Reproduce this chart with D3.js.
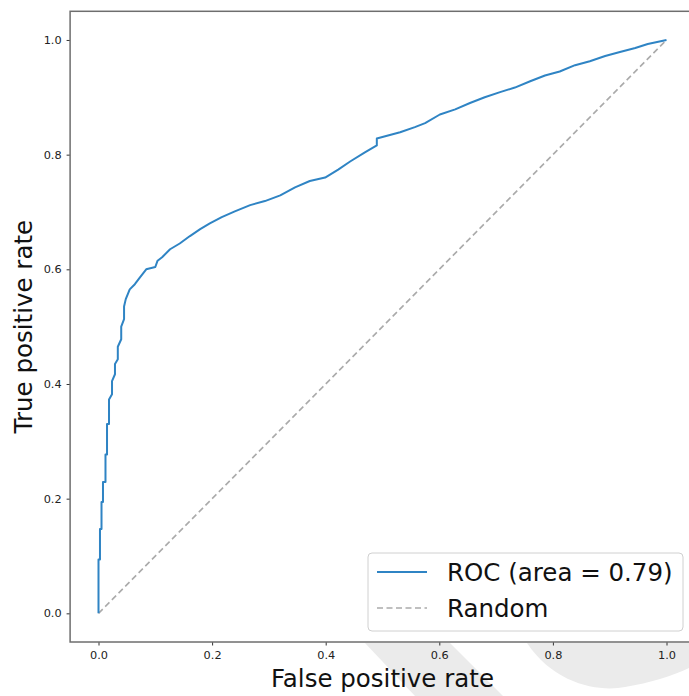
<!DOCTYPE html>
<html>
<head>
<meta charset="utf-8">
<script src="https://cdn.jsdelivr.net/npm/d3@7"></script>
<style>
  html, body { margin: 0; padding: 0; background: #fff; }
  svg { display: block; font-family: "DejaVu Sans", sans-serif; }
</style>
</head>
<body>
<svg id="chart" width="689" height="696"></svg>
<script>
// ROC curve points (false positive rate, true positive rate)
const fpr = [0, 0, 0.0026, 0.0026, 0.0053, 0.0053, 0.0079, 0.0079, 0.0123, 0.0123, 0.015, 0.015, 0.0185, 0.0185, 0.0238,
  0.0238, 0.029, 0.029, 0.034, 0.034, 0.04, 0.04, 0.045, 0.045, 0.048, 0.055, 0.064, 0.073, 0.084, 0.1, 0.104, 0.112,
  0.126, 0.143, 0.161, 0.179, 0.196,
  0.217, 0.24, 0.267, 0.293, 0.32, 0.346, 0.372, 0.399, 0.422, 0.443, 0.469, 0.49, 0.49, 0.531, 0.557, 0.575,
  0.601, 0.628, 0.654, 0.68, 0.707, 0.733, 0.76, 0.786, 0.812, 0.839, 0.865, 0.892, 0.918, 0.945, 0.967, 1.0];
const tpr = [0, 0.094, 0.094, 0.147, 0.147, 0.194, 0.194, 0.229, 0.229, 0.277, 0.277, 0.33, 0.33, 0.373, 0.382,
  0.405, 0.417, 0.435, 0.443, 0.465, 0.478, 0.5, 0.513, 0.535, 0.548, 0.565, 0.574, 0.586, 0.6, 0.604, 0.615, 0.621,
  0.635, 0.645, 0.658, 0.67, 0.68,
  0.691, 0.701, 0.712, 0.719, 0.729, 0.743, 0.754, 0.76, 0.774, 0.788, 0.804, 0.816, 0.828, 0.839, 0.848, 0.855,
  0.87, 0.879, 0.89, 0.9, 0.909, 0.917, 0.928, 0.938, 0.945, 0.956, 0.963, 0.972, 0.979, 0.986, 0.993, 1.0];
const randomLine = [[0, 0], [1, 1]];
const rocLabel = "ROC (area = 0.79)";
const randomLabel = "Random";
const ticks = [0, 0.2, 0.4, 0.6, 0.8, 1.0];
const xTitle = "False positive rate";
const yTitle = "True positive rate";

const svg = d3.select("#chart");

// decorative light-grey shapes behind the figure
svg.append("path")
  .attr("d", "M365,643 L450,643 L503,696 L415,696 Z")
  .attr("fill", "#ebebeb");
svg.append("path")
  .attr("d", "M527,643 C555,685 600,692 625,687 C650,683 672,676 689,668 L689,643 Z")
  .attr("fill", "#ebebeb");

const x = d3.scaleLinear().domain([-0.05, 1.05]).range([70.1, 694.9]);
const y = d3.scaleLinear().domain([-0.05, 1.05]).range([642, 11.3]);

// plot area background
svg.append("rect")
  .attr("x", x(-0.05)).attr("y", y(1.05))
  .attr("width", x(1.05) - x(-0.05)).attr("height", y(-0.05) - y(1.05))
  .attr("fill", "#fff");

// axes
const xAxis = svg.append("g")
  .attr("transform", `translate(0,${y(-0.05)})`)
  .call(d3.axisBottom(x).tickValues(ticks).tickFormat(d3.format(".1f")).tickSize(3.5).tickPadding(5));
const yAxis = svg.append("g")
  .attr("transform", `translate(${x(-0.05)},0)`)
  .call(d3.axisLeft(y).tickValues(ticks).tickFormat(d3.format(".1f")).tickSize(3.5).tickPadding(5));
[xAxis, yAxis].forEach(g => {
  g.select(".domain").remove();
  g.selectAll(".tick line").attr("stroke", "#333").attr("stroke-width", 1);
  g.selectAll(".tick text").attr("fill", "#222").attr("font-size", 11.3)
    .attr("font-family", "DejaVu Sans, sans-serif");
});

// reference diagonal
svg.append("path")
  .datum(randomLine)
  .attr("d", d3.line().x(d => x(d[0])).y(d => y(d[1])))
  .attr("fill", "none")
  .attr("stroke", "#aaaaaa")
  .attr("stroke-width", 1.6)
  .attr("stroke-dasharray", "6,3.5");

// ROC curve
const rocData = fpr.map((f, i) => [f, tpr[i]]);
svg.append("path")
  .datum(rocData)
  .attr("d", d3.line().x(d => x(d[0])).y(d => y(d[1])))
  .attr("fill", "none")
  .attr("stroke", "#2f84c4")
  .attr("stroke-width", 2)
  .attr("stroke-linejoin", "round");

// frame
svg.append("rect")
  .attr("x", x(-0.05)).attr("y", y(1.05))
  .attr("width", x(1.05) - x(-0.05)).attr("height", y(-0.05) - y(1.05))
  .attr("fill", "none")
  .attr("stroke", "#6e6e6e")
  .attr("stroke-width", 1.5);

// axis titles
svg.append("text")
  .attr("x", (x(-0.05) + x(1.05)) / 2).attr("y", 687)
  .attr("text-anchor", "middle")
  .attr("font-size", 24.5).attr("fill", "#111")
  .text(xTitle);
svg.append("text")
  .attr("transform", `translate(32,${(y(-0.05) + y(1.05)) / 2}) rotate(-90)`)
  .attr("text-anchor", "middle")
  .attr("font-size", 24.5).attr("fill", "#111")
  .text(yTitle);

// legend
const legend = svg.append("g");
legend.append("rect")
  .attr("x", 368).attr("y", 553).attr("width", 315).attr("height", 78)
  .attr("rx", 4)
  .attr("fill", "#fff").attr("fill-opacity", 0.8)
  .attr("stroke", "#d0d0d0").attr("stroke-width", 1);
const items = [
  { label: rocLabel, color: "#2f84c4", dash: null, width: 2, yPos: 572 },
  { label: randomLabel, color: "#aaaaaa", dash: "6,3.5", width: 1.6, yPos: 608 }
];
items.forEach(it => {
  legend.append("line")
    .attr("x1", 377).attr("x2", 427).attr("y1", it.yPos).attr("y2", it.yPos)
    .attr("stroke", it.color).attr("stroke-width", it.width)
    .attr("stroke-dasharray", it.dash);
  legend.append("text")
    .attr("x", 447).attr("y", it.yPos + 8.5)
    .attr("font-size", 24.5).attr("fill", "#111")
    .text(it.label);
});
</script>
</body>
</html>
